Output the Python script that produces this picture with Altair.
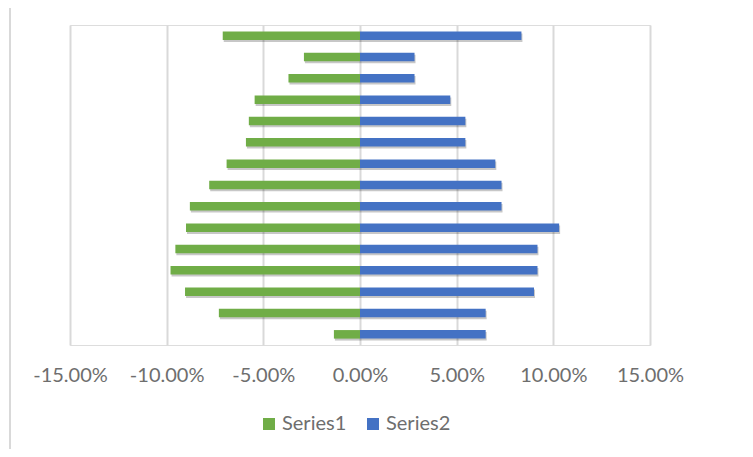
import altair as alt
import pandas as pd

rows = list(range(1, 16))
series1 = [-7.1, -2.9, -3.7, -5.45, -5.75, -5.9, -6.9, -7.8,
           -8.8, -9.0, -9.55, -9.8, -9.05, -7.3, -1.35]
series2 = [8.35, 2.82, 2.82, 4.67, 5.45, 5.45, 7.0, 7.32,
           7.32, 10.3, 9.18, 9.18, 9.0, 6.5, 6.5]
series_names = ["Series1", "Series2"]
colors = ["#70AD47", "#4472C4"]
tick_values = [-15, -10, -5, 0, 5, 10, 15]

records = []
for r, a, b in zip(rows, series1, series2):
    records.append({"row": r, "series": series_names[0], "value": a})
    records.append({"row": r, "series": series_names[1], "value": b})
df = pd.DataFrame(records)

FONT = "Lato"

y_enc = alt.Y("row:O", sort=rows, axis=None,
              scale=alt.Scale(paddingInner=0.6, paddingOuter=0.3))
x_scale = alt.Scale(domain=[-15, 15], nice=False, zero=True)
x_axis = alt.Axis(
    values=tick_values,
    labelExpr="(datum.value < 0 ? '-' : '') + format(abs(datum.value), '.2f') + '%'",
    ticks=False,
    domain=False,
    grid=True,
    gridColor="#D9D9D9",
    gridWidth=2,
    labelPadding=20,
    labelFont=FONT,
    labelFontSize=20,
    labelColor="#6E6E6E",
    labelOverlap=False,
    labelFlush=False,
    title=None,
)

shadow = alt.Chart(df).mark_bar(
    color="#000000", opacity=0.22, xOffset=1, x2Offset=1, yOffset=2, y2Offset=2
).encode(
    x=alt.X("value:Q", scale=x_scale, axis=x_axis),
    x2=alt.datum(0),
    y=y_enc,
)

bars = alt.Chart(df).mark_bar().encode(
    x=alt.X("value:Q", scale=x_scale, axis=x_axis),
    x2=alt.datum(0),
    y=y_enc,
    color=alt.Color(
        "series:N",
        scale=alt.Scale(domain=series_names, range=colors),
        legend=alt.Legend(
            title=None,
            orient="none",
            direction="horizontal",
            legendX=189,
            legendY=389,
            symbolType="square",
            symbolSize=144,
            symbolStrokeWidth=0,
            labelFont=FONT,
            labelFontSize=20,
            labelColor="#6E6E6E",
            labelOffset=3,
            columnPadding=16,
            padding=0,
        ),
    ),
)

border = alt.Chart(pd.DataFrame({"k": [0]})).mark_rule(
    color="#D9D9D9", strokeWidth=2
).encode(x=alt.value(-60), y=alt.value(-18), y2=alt.value(440))

chart = alt.layer(border, shadow, bars).properties(
    width=580,
    height=320,
    autosize=alt.AutoSizeParams(type="none"),
    padding={"left": 62, "top": 17, "right": 95, "bottom": 104},
).configure_view(strokeWidth=0, stroke="transparent").configure(background="white")

chart.save("out.html", embed_options={"renderer": "svg", "actions": False})
